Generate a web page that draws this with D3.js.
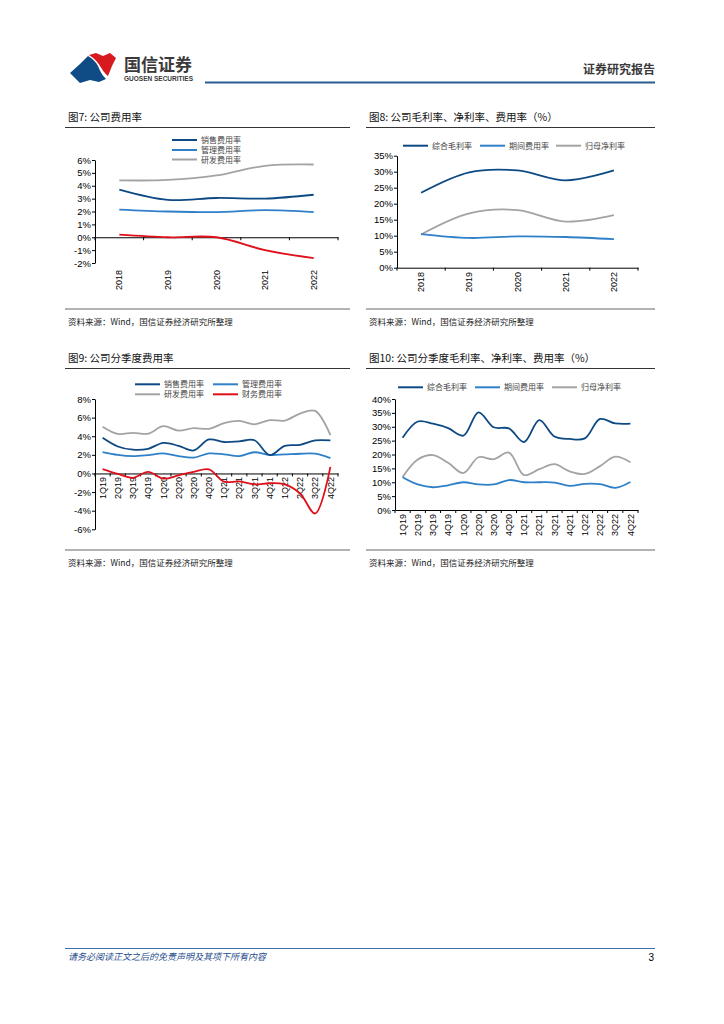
<!DOCTYPE html>
<html><head><meta charset="utf-8">
<script src="https://cdn.jsdelivr.net/npm/d3@7"></script>
<style>
body{margin:0;background:#fff;}
svg{display:block;}
text{font-family:"Liberation Sans",Arial,"Noto Sans CJK SC",sans-serif;}
.cjk{font-family:"Noto Sans CJK SC","Liberation Sans",sans-serif;}
</style></head>
<body>
<script>
// ---------- DATA ----------
const years = ["2018","2019","2020","2021","2022"];
const c7Sales = [3.7, 2.9, 3.05, 3.0, 3.3];
const c7Admin = [2.15, 2.0, 1.95, 2.1, 1.95];
const c7RD = [4.42, 4.45, 4.8, 5.55, 5.65];
const c7Fin = [0.2, 0.0, 0.0, -1.0, -1.62];
const c7Ticks = [-2,-1,0,1,2,3,4,5,6];

const c8Gross = [23.4, 29.8, 30.4, 27.3, 30.4];
const c8Period = [10.5, 9.3, 9.8, 9.6, 8.9];
const c8Net = [10.4, 17.0, 18.0, 14.4, 16.4];
const c8Ticks = [0,5,10,15,20,25,30,35];

const quarters = ["1Q19","2Q19","3Q19","4Q19","1Q20","2Q20","3Q20","4Q20","1Q21","2Q21","3Q21","4Q21","1Q22","2Q22","3Q22","4Q22"];
const c9Sales = [3.83, 2.9, 2.55, 2.65, 3.29, 2.97, 2.47, 3.65, 3.38, 3.45, 3.57, 1.97, 2.97, 3.08, 3.55, 3.55];
const c9Admin = [2.29, 1.99, 1.86, 1.97, 2.15, 1.86, 1.7, 2.15, 2.05, 1.86, 2.28, 1.99, 2.05, 2.12, 2.12, 1.65];
const c9RD = [5.03, 4.25, 4.37, 4.28, 5.08, 4.6, 4.87, 4.8, 5.4, 5.64, 5.28, 5.73, 5.68, 6.44, 6.72, 4.12];
const c9Fin = [0.47, -0.05, -0.47, 0.18, -0.56, -0.2, 0.18, 0.44, -0.88, -0.85, -1.17, -1.05, -1.18, -2.15, -4.3, 0.7];
const c9Ticks = [-6,-4,-2,0,2,4,6,8];

const c10Gross = [26.0, 31.9, 31.1, 29.5, 26.8, 35.2, 29.8, 29.4, 24.5, 32.4, 26.5, 25.6, 25.8, 32.8, 31.2, 31.1];
const c10Period = [11.8, 9.2, 8.2, 8.9, 10.0, 9.2, 9.2, 10.8, 10.0, 10.0, 9.9, 8.7, 9.4, 9.3, 8.0, 10.1];
const c10Net = [11.9, 18.2, 19.8, 17.0, 13.3, 19.0, 18.3, 20.7, 12.6, 14.7, 16.5, 13.9, 13.0, 15.8, 19.2, 17.2];
const c10Ticks = [0,5,10,15,20,25,30,35,40];

const NAVY = "#0d4a84", BLUE = "#2f80c8", GRAY = "#a3a3a3", RED = "#e0101a";

// ---------- PAGE ----------
const svg = d3.select("body").append("svg").attr("width",724).attr("height",1024);

// header logo
const logo = svg.append("g");
logo.append("path").attr("d","M89 55 L96 53 L103 56 L110 53 L116 58 L112 66 L108 76 C103 72 101 67 98 63 C96 60 93 58 89 55 Z").attr("fill","#d71920");
logo.append("path").attr("d","M70 73 L80 64 L88 56 C93 59 96 62 98 66 C100 71 102 75 106 79 L99 82 L90 80 L80 83 Z").attr("fill","#0f4c86");
svg.append("text").attr("class","cjk").attr("x",124).attr("y",71).attr("font-size",17).attr("font-weight","bold").attr("fill","#3a3a3a").text("国信证券");
svg.append("text").attr("x",124).attr("y",81).attr("font-size",6.5).attr("font-weight","bold").attr("fill","#3a3a3a").text("GUOSEN SECURITIES");
svg.append("line").attr("x1",205).attr("x2",655).attr("y1",82.5).attr("y2",82.5).attr("stroke","#2b5c90").attr("stroke-width",2);
svg.append("text").attr("class","cjk").attr("x",655).attr("y",74).attr("text-anchor","end").attr("font-size",12).attr("font-weight","bold").attr("fill","#3a3a3a").text("证券研究报告");

// footer
svg.append("line").attr("x1",65).attr("x2",655).attr("y1",948.5).attr("y2",948.5).attr("stroke","#3a6ea5").attr("stroke-width",1);
svg.append("text").attr("class","cjk").attr("x",68).attr("y",960).attr("font-size",9).attr("font-style","italic").attr("fill","#1f4e8c").text("请务必阅读正文之后的免责声明及其项下所有内容");
svg.append("text").attr("x",654).attr("y",961).attr("text-anchor","end").attr("font-size",10).attr("fill","#000").text("3");

function frame(x0, x1, titleY, title, srcY){
  svg.append("text").attr("class","cjk").attr("x",x0+3).attr("y",titleY).attr("font-size",10.5).attr("fill","#111").text(title);
  svg.append("line").attr("x1",x0).attr("x2",x1).attr("y1",titleY+6.5).attr("y2",titleY+6.5).attr("stroke","#333").attr("stroke-width",1.2);
  svg.append("line").attr("x1",x0).attr("x2",x1).attr("y1",srcY).attr("y2",srcY).attr("stroke","#9a9a9a").attr("stroke-width",1.5);
  svg.append("text").attr("class","cjk").attr("x",x0+3).attr("y",srcY+16).attr("font-size",8.5).attr("fill","#222").text("资料来源：Wind，国信证券经济研究所整理");
}

function chart(opt){
  const g = svg.append("g");
  const x = d3.scaleBand().domain(opt.cats).range([opt.left, opt.right]);
  const y = d3.scaleLinear().domain([opt.ticks[0], opt.ticks[opt.ticks.length-1]]).range([opt.bottom, opt.top]);
  // y axis
  const ya = g.append("g").attr("transform",`translate(${opt.left},0)`)
    .call(d3.axisLeft(y).tickValues(opt.ticks).tickSize(3).tickSizeOuter(0).tickFormat(d=>d+"%"));
  ya.select(".domain").attr("stroke","#000");
  ya.selectAll(".tick line").attr("stroke","#000");
  ya.selectAll("text").attr("font-size",9.5).attr("fill","#000").attr("x",-4);
  // x axis line at baseline
  const axY = y(opt.axisAt);
  const xa = g.append("g").attr("transform",`translate(0,${axY})`)
    .call(d3.axisBottom(x).tickSize(0).tickSizeOuter(0));
  xa.select(".domain").attr("stroke","#000");
  const bounds = opt.cats.map(c=>x(c)).concat([opt.right]);
  g.selectAll(null).data(bounds).enter().append("line")
    .attr("x1",d=>d).attr("x2",d=>d).attr("y1",axY).attr("y2",axY+3).attr("stroke","#000");
  xa.selectAll(".tick text")
    .attr("transform",`translate(0,${opt.labelY-axY}) rotate(-90)`)
    .attr("text-anchor","end").attr("dy","0.35em").attr("x",0).attr("y",0)
    .attr("font-size",9).attr("fill","#000");
  // lines
  const line = d3.line().x((d,i)=>x(opt.cats[i])+x.bandwidth()/2).y(d=>y(d)).curve(d3.curveCatmullRom.alpha(0.5));
  opt.series.forEach(s=>{
    g.append("path").datum(s.values).attr("d",line).attr("fill","none").attr("stroke",s.color).attr("stroke-width",1.8);
  });
  // legend
  opt.legend.forEach(l=>{
    g.append("line").attr("x1",l.x).attr("x2",l.x+25).attr("y1",l.y).attr("y2",l.y).attr("stroke",l.color).attr("stroke-width",2);
    g.append("text").attr("class","cjk").attr("x",l.x+29).attr("y",l.y+3).attr("font-size",8).attr("fill","#444").text(l.label);
  });
}

// Chart 7
frame(65, 350, 121, "图7: 公司费用率", 309);
chart({cats:years, ticks:c7Ticks, left:95, right:338, top:160, bottom:263, axisAt:0, labelY:270,
  series:[{values:c7RD,color:GRAY},{values:c7Admin,color:BLUE},{values:c7Sales,color:NAVY},{values:c7Fin,color:RED}],
  legend:[{x:172,y:140,color:NAVY,label:"销售费用率"},{x:172,y:150,color:BLUE,label:"管理费用率"},{x:172,y:159.5,color:GRAY,label:"研发费用率"}]});

// Chart 8
frame(366, 655, 121, "图8: 公司毛利率、净利率、费用率（%）", 309);
chart({cats:years, ticks:c8Ticks, left:397, right:638, top:155.7, bottom:267.7, axisAt:0, labelY:272,
  series:[{values:c8Net,color:GRAY},{values:c8Period,color:BLUE},{values:c8Gross,color:NAVY}],
  legend:[{x:403,y:145.7,color:NAVY,label:"综合毛利率"},{x:480,y:145.7,color:BLUE,label:"期间费用率"},{x:556,y:145.7,color:GRAY,label:"归母净利率"}]});

// Chart 9
frame(65, 350, 362, "图9: 公司分季度费用率", 550);
chart({cats:quarters, ticks:c9Ticks, left:95, right:338, top:399, bottom:529.3, axisAt:0, labelY:477,
  series:[{values:c9RD,color:GRAY},{values:c9Admin,color:BLUE},{values:c9Sales,color:NAVY},{values:c9Fin,color:RED}],
  legend:[{x:135,y:384.3,color:NAVY,label:"销售费用率"},{x:213,y:384.3,color:BLUE,label:"管理费用率"},{x:135,y:394.3,color:GRAY,label:"研发费用率"},{x:213,y:394.3,color:RED,label:"财务费用率"}]});

// Chart 10
frame(366, 655, 362, "图10: 公司分季度毛利率、净利率、费用率（%）", 550);
chart({cats:quarters, ticks:c10Ticks, left:395, right:638, top:399, bottom:510, axisAt:0, labelY:514,
  series:[{values:c10Net,color:GRAY},{values:c10Period,color:BLUE},{values:c10Gross,color:NAVY}],
  legend:[{x:398,y:387.3,color:NAVY,label:"综合毛利率"},{x:475,y:387.3,color:BLUE,label:"期间费用率"},{x:552,y:387.3,color:GRAY,label:"归母净利率"}]});
</script>
</body></html>
